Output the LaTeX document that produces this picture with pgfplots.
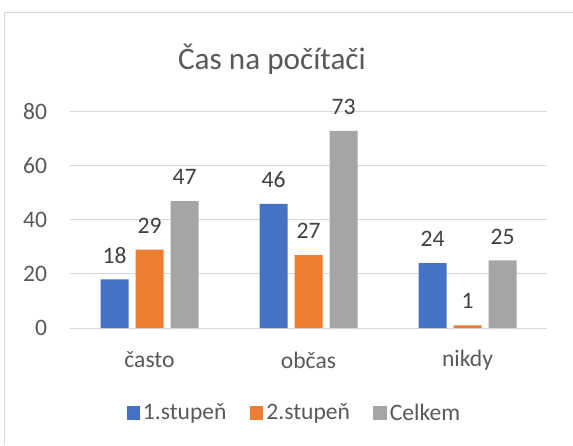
\documentclass[border=0pt]{standalone}
\usepackage{pgfplots}
\pgfplotsset{compat=1.18}
\usepackage{fontspec}
\setmainfont{Carlito}
\definecolor{cblue}{HTML}{4472C4}
\definecolor{corange}{HTML}{ED7D31}
\definecolor{cgray}{HTML}{A5A5A5}
\definecolor{gridc}{HTML}{D9D9D9}
\definecolor{txt}{HTML}{595959}
\definecolor{lbl}{HTML}{404040}
\begin{document}
\begin{tikzpicture}[x=0.75pt,y=0.75pt]
\begin{axis}[
  name=ax,
  scale only axis, width=357.75pt, height=162pt,
  ybar=5.25pt, bar width=21pt,
  ymin=0, ymax=80, ytick={0,20,40,60,80},
  xmin=-0.5, xmax=2.5, xtick={0,1,2},
  xticklabels={často,občas,nikdy},
  ymajorgrids, grid style={gridc, line width=0.75pt},
  axis line style={draw=none},
  major tick length=0pt,
  tick label style={text=txt, font=\fontsize{17.7pt}{21pt}\selectfont},
  /pgf/number format/assume math mode=true,
  yticklabel style={anchor=east, inner sep=0pt, xshift=-17pt},
  xticklabel style={anchor=center, inner sep=0pt, yshift=-24pt},
  nodes near coords,
  every node near coord/.append style={anchor=center, yshift=18pt, text=lbl, font=\fontsize{17.7pt}{21pt}\selectfont},
  legend columns=-1,
  legend style={at={(0.4717,-0.3935)}, anchor=center, draw=none, fill=none,
    font=\fontsize{17.7pt}{21pt}\selectfont, text=txt,
    /tikz/every even column/.append style={column sep=15pt},
    nodes={inner sep=2.5pt}},
  legend image code/.code={\fill[#1,draw=none] (0pt,-4.9pt) rectangle (9.8pt,4.9pt);},
]
\addplot[fill=cblue, draw=none] coordinates {(0,18) (1,46) (2,24)};
\addplot[fill=corange, draw=none] coordinates {(0,29) (1,27) (2,1)};
\addplot[fill=cgray, draw=none] coordinates {(0,47) (1,73) (2,25)};
\legend{1.stupeň,2.stupeň,Celkem}
\coordinate (P) at (rel axis cs:0,0);
\end{axis}
\pgfresetboundingbox
\begin{scope}[shift={(P)}, shift={(-70,-117)}]
\path[use as bounding box] (0,0) rectangle (573,445);
\draw[gridc, line width=0.75pt] (5,0) -- (5,432) -- (573,432);
\node[anchor=base, text=txt, font=\fontsize{23.4pt}{28pt}\selectfont, inner sep=0pt] at (272,375) {Čas na počítači};
\end{scope}
\end{tikzpicture}
\end{document}
